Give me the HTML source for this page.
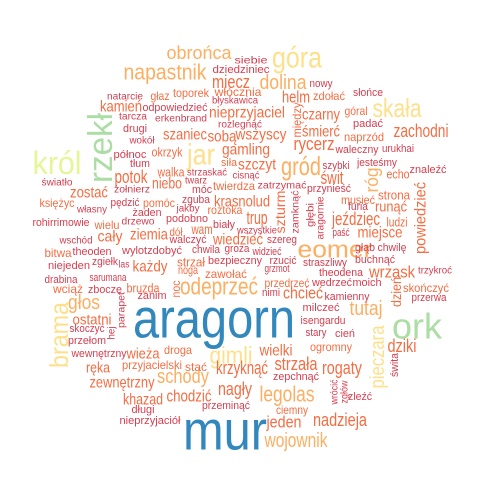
<!DOCTYPE html>
<html><head><meta charset="utf-8">
<style>
html,body{margin:0;padding:0;background:#fff;width:480px;height:480px;overflow:hidden}
svg{display:block}
text{font-family:"Liberation Sans",sans-serif}
</style></head>
<body>
<svg id="cloud" width="480" height="480" viewBox="0 0 480 480" xmlns="http://www.w3.org/2000/svg"></svg>
<script>
// word, font size (frequency weight), color class
const words = ["aragorn","mur","ork","rzekł","król","jar","góra","skała","gimli","brama","pieczara",
"gród","eomer","odeprzeć","napastnik","obrońca","dolina","legolas","wojownik","tutaj","schody","głos",
"miecz","kamień","nieprzyjaciel","szaniec","sobą","wszyscy","gamling","okrzyk","szczyt","potok","walka","niebo","zostać","krasnolud","trup","ziemia","cały","wiedzieć","każdy","ostatni","wieża","ręka","zewnętrzny","khazad","chodzić","krzyknąć","nagły","wielki","strzała","rogaty","jeden","nadzieja","dziki","chcieć","wrzask","zachodni","helm","czarny","śmierć","rycerz","świt","runąć","jeździec","miejsce","góral","zdołać","naprzód","echo","strona","ludzi","musieć","furia","roztoka","pomóc","księżyc","wam","dół","strzał","noga","zawołać","bruzda","droga","stać","przyjacielski","ogromny","ciemny","bitwa","wciąż","skończyć","zguba","toporek","głaz","włócznia","siła","twierdza","wielu","wszystkie",
"siebie","dziedziniec","natarcie","odpowiedzieć","błyskawica","tarcza","erkenbrand","rozlegnąć","drugi","wokół","północ","tłum","strzaskać","cisnąć","światło","twarz","żołnierz","móc","zatrzymać","przynieść","własny","pędzić","jakby","żaden","rohirrimowie","drzewo","podobno","biały","walczyć","szereg","wschód","theoden","wylotzdobyć","chwila","groza","widzieć","głąb","chwilę","paść","niejeden","zgiełk","las","bezpieczny","rzucić","straszliwy","buchnąć","grzmot","theodena","trzykroć","drabina","sarumana","zbocze","zanim","przedrzeć","wedrzeć","moich","przerwa","nimi","kamienny","milczeć","isengardu","stary","cień","skoczyć","przełom","wewnętrzny","zepchnąć","zleźć","przeminąć","długi","nieprzyjaciół","nowy","słońce","padać","waleczny","urukhai","szybki","jesteśmy","znaleźć",
"szturm","zamknąć","głębi","aragornie","między","róg","powiedzieć","dzień","noc","parapet","hej","świta","wrócić","zgłów"];
const sizes = [56,56,36,34,32,30,30,26,24,26,20,
26,24,24,22,18,20,22,20,20,20,20,
18,16,16,16,16,16,16,13,16,18,13,16,16,16,18,16,16,16,16,15,15,15,16,16,17,18,18,16,18,18,17,18,18,17,17,18,17,16,16,18,18,15,18,16,12,12,12,13,13,13,12,11,12,12,12,14,12,13,12,12,13,12,12,12,12,12,12,12,12,11,12,12,12,11,12,12,10,
10,11,10,11,10,10,10,10,11,10,11,11,10,10,10,10,10,11,10,11,10,11,10,11,11,10,11,11,11,11,10,11,11,11,11,11,11,11,11,11,11,10,11,11,11,11,11,11,10,11,11,11,11,12,11,11,11,11,11,11,11,11,11,11,11,11,11,11,11,11,11,11,11,11,11,11,11,11,11,
14,10,10,10,12,18,16,14,12,10,10,11,10,10];
const colorClass = ["B","B","G","G","L","Y","Y","Y","Y","Y","Y",
"O","O","O","O","O","O","O","O","O","O","O",
"R","R","R","R","R","R","R","R","R","R","R","R","R","R","R","R","R","R","R","R","R","R","R","R","R","R","R","R","R","R","R","R","R","R","R","R","R","R","R","R","R","R","R","R","R","R","R","R","R","R","R","P","R","R","R","R","R","R","R","R","R","R","R","R","R","R","R","R","R","P","R","R","R","R","R","R","P",
"P","P","P","P","P","P","P","P","P","P","P","P","P","P","P","P","P","P","P","P","P","P","P","P","P","P","P","P","P","P","P","P","P","P","P","P","P","P","P","P","P","P","P","P","P","P","P","P","P","P","P","P","P","R","P","P","P","P","P","P","P","P","P","P","P","P","P","P","P","P","P","P","P","P","P","P","P","P","P",
"R","P","P","P","R","O","R","R","R","P","P","P","P","P"];
// layout: [centerX, centerY, textLength, vertical(1)]
const layout = [[214,318,162,0],[225,430,84,0],[417,326,50,0],[101,148,70,1],[57,163,49,0],[201,155,28,0],[297,58,50,0],[397,108,49,0],[231,356,43,0],[59,335,66,1],[378,357,63,1],
[301,166,40,0],[335,250,75,0],[219,287,78,0],[165,72,83,0],[199,53,65,0],[283,83,47,0],[287,394,55,0],[296,441,63,0],[366,309,33,0],[183,377,52,0],[84,303,32,0],
[231,82,38,0],[121,107,42,0],[247,113,76,0],[185,135,44,0],[222,137,29,0],[261,135,51,0],[246,150,48,0],[167,152,31,0],[257,165,38,0],[131,177,33,0],[171,172,27,0],[167,184,30,0],[89,193,38,0],[242,202,56,0],[257,218,21,0],[149,235,38,0],[110,237,25,0],[238,240,50,0],[150,267,35,0],[92,320,39,0],[143,354,33,0],[98,368,24,0],[122,383,65,0],[143,400,40,0],[189,396,45,0],[242,368,52,0],[235,389,34,0],[276,351,33,0],[296,364,43,0],[342,368,40,0],[284,422,35,0],[340,420,54,0],[402,346,29,0],[303,293,40,0],[392,272,46,0],[421,131,55,0],[296,97,28,0],[321,115,38,0],[321,132,38,0],[314,144,41,0],[332,178,23,0],[391,207,32,0],[356,219,48,0],[380,233,45,0],[356,111,23,0],[329,96,32,0],[364,137,40,0],[398,174,23,0],[394,195,32,0],[397,222,21,0],[358,200,34,0],[358,207,20,0],[225,210,35,0],[159,203,32,0],[57,203,35,0],[202,229,21,0],[176,232,13,0],[191,262,28,0],[188,270,20,0],[226,274,42,0],[143,288,33,0],[178,350,28,0],[196,367,22,0],[152,365,60,0],[331,347,42,0],[292,410,32,0],[58,253,27,0],[68,289,30,0],[426,288,46,0],[196,200,28,0],[191,93,36,0],[160,96,19,0],[238,92,47,0],[229,163,16,0],[234,186,42,0],[107,225,25,0],[257,231,40,0],
[251,61,33,0],[241,70,57,0],[125,97,36,0],[175,108,65,0],[235,101,46,0],[133,117,28,0],[181,119,52,0],[240,125,44,0],[135,129,24,0],[142,141,25,0],[130,155,33,0],[140,164,20,0],[207,173,40,0],[246,176,27,0],[57,183,31,0],[196,181,22,0],[132,190,36,0],[202,190,20,0],[282,186,49,0],[329,189,44,0],[92,210,30,0],[125,203,29,0],[188,209,23,0],[147,213,29,0],[61,223,57,0],[138,222,33,0],[187,219,42,0],[224,225,22,0],[188,240,37,0],[282,240,30,0],[76,241,33,0],[92,252,39,0],[152,251,60,0],[206,250,28,0],[237,249,25,0],[267,252,29,0],[365,248,20,0],[392,248,29,0],[341,233,17,0],[69,266,42,0],[105,262,26,0],[124,265,11,0],[235,261,54,0],[283,261,27,0],[325,263,44,0],[375,260,40,0],[277,269,25,0],[341,273,44,0],[435,271,34,0],[61,280,33,0],[108,278,37,0],[105,290,34,0],[152,296,29,0],[287,283,45,0],[332,283,40,0],[367,283,29,0],[429,298,35,0],[271,293,18,0],[347,297,45,0],[321,308,37,0],[323,321,45,0],[316,333,21,0],[345,334,20,0],[87,329,35,0],[87,341,38,0],[99,354,55,0],[296,377,46,0],[360,397,24,0],[226,406,48,0],[143,410,23,0],[150,421,61,0],[321,84,23,0],[368,93,30,0],[368,124,30,0],[357,150,43,0],[398,149,32,0],[336,166,27,0],[377,163,40,0],[428,170,37,0],
[280,212,43,1],[296,212,43,1],[311,215,24,1],[321,218,43,1],[297,120,35,1],[372,180,25,1],[421,218,72,1],[396,292,30,1],[176,289,17,1],[122,310,36,1],[112,333,13,1],[395,365,24,1],[335,392,25,1],[345,392,23,1]];
const palette = {B:"#3288bd",G:"#abdda4",L:"#e6f598",Y:"#fee08b",O:"#fdae61",R:"#f46d43",P:"#d53e4f"};

const svg = document.getElementById('cloud');
const NS = "http://www.w3.org/2000/svg";
for (let i = 0; i < words.length; i++) {
  const [cx, cy, len, vert] = layout[i];
  const t = document.createElementNS(NS, 'text');
  
  
  t.setAttribute('x', cx);
  t.setAttribute('y', cy);
  t.setAttribute('text-anchor', 'middle');
  t.setAttribute('dominant-baseline', 'central');
  t.setAttribute('font-size', sizes[i]);
  t.setAttribute('fill', palette[colorClass[i]]);
  t.setAttribute('textLength', len);
  t.setAttribute('lengthAdjust', 'spacingAndGlyphs');
  if (vert) t.setAttribute('transform', 'rotate(-90 ' + cx + ' ' + cy + ')');
  t.textContent = words[i];
  svg.appendChild(t);
}
</script>
</body></html>
